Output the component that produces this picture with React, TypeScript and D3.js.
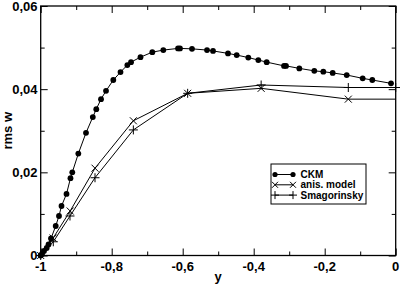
import * as d3 from "d3";
import { useEffect, useRef } from "react";

// CKM (filled circles)
const ckmY = [-1, -0.9963, -0.9907, -0.9831, -0.978, -0.971, -0.9577, -0.9485, -0.9414, -0.9273, -0.9161, -0.911, -0.894, -0.8724, -0.8532, -0.8434, -0.8301, -0.816, -0.7955, -0.7752, -0.756, -0.7456, -0.7189, -0.6856, -0.6546, -0.6132, -0.6076, -0.5738, -0.5315, -0.5146, -0.4724, -0.4479, -0.4152, -0.387, -0.3634, -0.3146, -0.309, -0.2715, -0.2293, -0.2039, -0.1775, -0.138, -0.093, -0.0659, -0.0132];
const ckmW = [0, 0.00036, 0.00108, 0.0018, 0.00265, 0.00409, 0.0071, 0.0095, 0.0119, 0.0148, 0.0186, 0.02, 0.0245, 0.0295, 0.0333, 0.0352, 0.0376, 0.0396, 0.0422, 0.0441, 0.0458, 0.0465, 0.0477, 0.0489, 0.0494, 0.0498, 0.0498, 0.0497, 0.0494, 0.0492, 0.0486, 0.0482, 0.0476, 0.047, 0.0465, 0.0456, 0.0456, 0.045, 0.0444, 0.0442, 0.0439, 0.0434, 0.0426, 0.0422, 0.0414];

// anis. model (x markers); the last point is the line's end at the wall
const anisY = [-1, -0.965, -0.917, -0.847, -0.739, -0.586, -0.379, -0.1335, 0];
const anisW = [0, 0.0042, 0.0107, 0.021, 0.0324, 0.039, 0.0402, 0.0376, 0.0376];

// Smagorinsky (+ markers)
const smagY = [-1, -0.9645, -0.9175, -0.847, -0.739, -0.586, -0.379, -0.1335, 0];
const smagW = [0, 0.0033, 0.0095, 0.0187, 0.0302, 0.039, 0.041, 0.0404, 0.0404];

const xTicks = [-1, -0.8, -0.6, -0.4, -0.2, 0];
const xMinor = [-0.9, -0.7, -0.5, -0.3, -0.1];
const yTicks = [0, 0.02, 0.04, 0.06];
const yMinor = [0.01, 0.03, 0.05];

const legendNames = ["CKM", "anis. model", "Smagorinsky"];

const fmt = (d: number) => String(d).replace(".", ",");

export default function App() {
  const ref = useRef<SVGSVGElement>(null);

  useEffect(() => {
    const width = 400;
    const height = 285;
    const margin = { top: 6, right: 4.3, bottom: 29.5, left: 40.7 };
    const font = "'Liberation Sans', Arial, sans-serif";

    const svg = d3.select(ref.current);
    svg.selectAll("*").remove();

    const x = d3.scaleLinear().domain([-1, 0]).range([margin.left, width - margin.right]);
    const y = d3.scaleLinear().domain([0, 0.06]).range([height - margin.bottom, margin.top]);

    const x0 = x(-1), x1 = x(0), y0 = y(0), y1 = y(0.06);

    // ticks on all four sides, pointing inwards
    const drawAxis = (axis: any, tx: number, ty: number) => {
      const g = svg.append("g").attr("transform", `translate(${tx},${ty})`).call(axis);
      g.select(".domain").remove();
      g.selectAll("line").attr("stroke", "#000").attr("stroke-width", 1);
      return g;
    };
    drawAxis(d3.axisBottom(x).tickValues(xTicks).tickSize(-7).tickFormat(() => ""), 0, y0);
    drawAxis(d3.axisBottom(x).tickValues(xMinor).tickSize(-4).tickFormat(() => ""), 0, y0);
    drawAxis(d3.axisTop(x).tickValues(xTicks).tickSize(-7).tickFormat(() => ""), 0, y1);
    drawAxis(d3.axisTop(x).tickValues(xMinor).tickSize(-4).tickFormat(() => ""), 0, y1);
    drawAxis(d3.axisLeft(y).tickValues(yTicks).tickSize(-7).tickFormat(() => ""), x0, 0);
    drawAxis(d3.axisLeft(y).tickValues(yMinor).tickSize(-4).tickFormat(() => ""), x0, 0);
    drawAxis(d3.axisRight(y).tickValues(yTicks).tickSize(-7).tickFormat(() => ""), x1, 0);
    drawAxis(d3.axisRight(y).tickValues(yMinor).tickSize(-4).tickFormat(() => ""), x1, 0);

    // frame
    svg.append("rect")
      .attr("x", x0).attr("y", y1)
      .attr("width", x1 - x0).attr("height", y0 - y1)
      .attr("fill", "none").attr("stroke", "#000").attr("stroke-width", 1.3);

    // tick labels
    svg.selectAll(".xlab")
      .data(xTicks)
      .join("text")
      .attr("x", d => x(d))
      .attr("y", 271)
      .attr("text-anchor", "middle")
      .style("font", `bold 13px ${font}`)
      .text(d => fmt(d));

    svg.selectAll(".ylab")
      .data(yTicks)
      .join("text")
      .attr("x", 37.5)
      .attr("y", d => y(d) + 4.5)
      .attr("text-anchor", "end")
      .style("font", `bold 13px ${font}`)
      .text(d => fmt(d));

    // axis titles
    svg.append("text")
      .attr("x", (x0 + x1) / 2).attr("y", 281)
      .attr("text-anchor", "middle")
      .style("font", `bold 13px ${font}`)
      .text("y");
    svg.append("text")
      .attr("transform", `translate(12,${(y0 + y1) / 2}) rotate(-90)`)
      .attr("text-anchor", "middle")
      .style("font", `bold 13px ${font}`)
      .text("rms w");

    const line = d3.line<[number, number]>().x(d => x(d[0])).y(d => y(d[1]));
    const zip = (a: number[], b: number[]) => a.map((v, i) => [v, b[i]] as [number, number]);

    const ckm = zip(ckmY, ckmW);
    const anis = zip(anisY, anisW);
    const smag = zip(smagY, smagW);

    const plot = svg.append("g");
    [smag, anis, ckm].forEach(s => {
      plot.append("path").attr("d", line(s)).attr("fill", "none").attr("stroke", "#000").attr("stroke-width", 1);
    });

    const xMark = (g: any, cx: number, cy: number, r = 3.5) => {
      g.append("path")
        .attr("d", `M${cx - r},${cy - r}L${cx + r},${cy + r}M${cx - r},${cy + r}L${cx + r},${cy - r}`)
        .attr("stroke", "#000").attr("stroke-width", 1);
    };
    const plusMark = (g: any, cx: number, cy: number, r = 4.5) => {
      g.append("path")
        .attr("d", `M${cx - r},${cy}L${cx + r},${cy}M${cx},${cy - r}L${cx},${cy + r}`)
        .attr("stroke", "#000").attr("stroke-width", 1);
    };

    anis.slice(0, -1).forEach(d => xMark(plot, x(d[0]), y(d[1])));
    smag.forEach(d => plusMark(plot, x(d[0]), y(d[1])));

    plot.selectAll(".dot")
      .data(ckm)
      .join("circle")
      .attr("cx", d => x(d[0]))
      .attr("cy", d => y(d[1]))
      .attr("r", 2.9)
      .attr("fill", "#000");

    // legend
    const lg = svg.append("g");
    lg.append("rect")
      .attr("x", 271).attr("y", 164).attr("width", 95).attr("height", 40)
      .attr("fill", "#fff").attr("stroke", "#000").attr("stroke-width", 1);
    legendNames.forEach((name, i) => {
      const ly = 174.5 + i * 10.3;
      lg.append("line").attr("x1", 275).attr("x2", 293).attr("y1", ly).attr("y2", ly)
        .attr("stroke", "#000").attr("stroke-width", 1);
      if (i === 0) {
        lg.append("circle").attr("cx", 275).attr("cy", ly).attr("r", 2.6).attr("fill", "#000");
        lg.append("circle").attr("cx", 293).attr("cy", ly).attr("r", 2.6).attr("fill", "#000");
      } else if (i === 1) {
        xMark(lg, 275, ly, 3);
        xMark(lg, 293, ly, 3);
      } else {
        plusMark(lg, 275, ly, 4);
        plusMark(lg, 293, ly, 4);
      }
      lg.append("text")
        .attr("x", 300.5).attr("y", ly + 3.6)
        .style("font", `bold 10px ${font}`)
        .text(name);
    });
  }, []);

  return (
    <svg
      ref={ref}
      width={400}
      height={285}
      style={{ position: "absolute", left: 0, top: 0, background: "#fff" }}
    />
  );
}
